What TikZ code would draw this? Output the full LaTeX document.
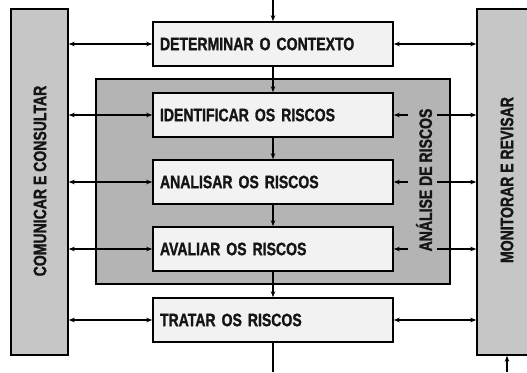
\documentclass[tikz,border=0pt]{standalone}
\usepackage{fontspec}
\setmainfont{Liberation Sans}[FakeStretch=0.78, BoldFeatures={FakeBold=1.3}]
\usetikzlibrary{arrows.meta}
\definecolor{boxfill}{HTML}{F2F2F2}
\definecolor{sidefill}{HTML}{C6C6C6}
\definecolor{anafill}{HTML}{B4B4B4}
\definecolor{txt}{HTML}{151515}
\begin{document}
\begin{tikzpicture}[x=1pt,y=-1pt,
  lbl/.style={font=\bfseries\fontsize{18}{21}\selectfont, text=txt},
  procbox/.style={lbl, draw, line width=1.6pt, fill=boxfill, minimum width=240pt,
    minimum height=44pt, text width=226pt, inner xsep=7pt, align=left},
  sidebox/.style={draw, line width=1.4pt, fill=sidefill, inner sep=0pt},
  conn/.style={line width=1.1pt, black},
  tip/.style={-{Stealth[length=6pt,width=4.5pt]}},
  dtip/.style={{Stealth[length=6pt,width=4.5pt]}-{Stealth[length=6pt,width=4.5pt]}}
]
\clip (0,0) rectangle (527,372);
\fill[white] (0,0) rectangle (527,372);
% side boxes
\node[sidebox, minimum width=57pt, minimum height=346pt] (L) at (39.5,182) {};
\node[lbl, rotate=90] (Ltxt) at (40,181) {COMUNICAR E CONSULTAR};
\node[sidebox, minimum width=64pt, minimum height=346pt] (R) at (509,182) {};
\node[lbl, rotate=90] (Rtxt) at (507,180) {MONITORAR E REVISAR};
% analysis box
\node[draw, line width=1.6pt, fill=anafill, minimum width=354pt, minimum height=205pt, inner sep=0pt] (A) at (273,181.5) {};
\node[lbl, rotate=90] (Atxt) at (424,180) {ANÁLISE DE RISCOS};
% process boxes
\node[procbox] (D) at (273,44) {DETERMINAR O CONTEXTO};
\node[procbox] (I) at (273,115) {IDENTIFICAR OS RISCOS};
\node[procbox] (N) at (273,182) {ANALISAR OS RISCOS};
\node[procbox] (V) at (273,249) {AVALIAR OS RISCOS};
\node[procbox] (T) at (273,320) {TRATAR OS RISCOS};
% helper coordinates
\coordinate (top) at (273,0);
\coordinate (bot) at (273,372);
\coordinate (rb) at (507,372);
\coordinate (gapL) at (408,0);
\coordinate (gapR) at (437,0);
% vertical flow
\draw[conn, tip] (top) -- (D.north);
\draw[conn, tip] (D.south) -- (I.north);
\draw[conn, tip] (I.south) -- (N.north);
\draw[conn, tip] (N.south) -- (V.north);
\draw[conn, tip] (V.south) -- (T.north);
\draw[conn] (T.south) -- (bot);
\draw[conn, tip] (rb) -- (rb |- R.south);
% left connectors
\foreach \b in {D,I,N,V,T}{
  \draw[conn, dtip] (L.east |- \b.west) -- (\b.west);
}
% right connectors
\draw[conn, dtip] (D.east) -- (R.west |- D.east);
\draw[conn, dtip] (T.east) -- (R.west |- T.east);
\foreach \b in {I,N,V}{
  \draw[conn, tip] (gapL |- \b.east) -- (\b.east);
  \draw[conn, tip] (gapR |- \b.east) -- (R.west |- \b.east);
}
\end{tikzpicture}
\end{document}
